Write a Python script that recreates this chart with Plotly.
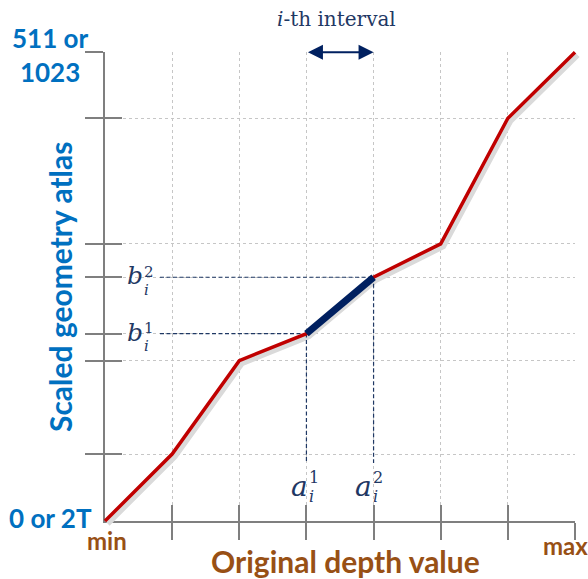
import plotly.graph_objects as go

# ---------------- data ----------------
x_steps = [0, 1, 2, 3, 4, 5, 6, 7]                    # original depth value (min .. max)
y_scaled = [0, 146, 350, 409, 532, 605, 879, 1023]    # scaled geometry atlas value
interval_idx = [3, 4]                                  # i-th interval (a_i^1, a_i^2)
x_ticks = [1, 2, 3, 4, 5, 6, 7]
y_ticks = [146, 350, 409, 532, 605, 879, 1023]

RED = "#C00000"
NAVY = "#002060"
DASH_NAVY = "#1F3864"
BLUE = "#0070C0"
BROWN = "#985015"
GRID = "#C6C6C6"
AXIS = "#7F7F7F"

W, H = 588, 579
X0, X1 = 105, 575      # pixel of x=min, x=max
Y0, Y1 = 521, 52.3     # pixel of y=0, y=top
XMAX, YMAX = x_steps[-1], y_scaled[-1]
PAD = 8
padx = PAD * XMAX / (X1 - X0)
pady = PAD * YMAX / (Y0 - Y1)


def fx(p):
    return p / W


def fy(p):
    return 1 - p / H


fig = go.Figure()

a1x, a2x = interval_idx
b1y, b2y = y_scaled[a1x], y_scaled[a2x]
guide_x0 = (160 - X0) * XMAX / (X1 - X0)
guide_y0 = (Y0 - 463) * YMAX / (Y0 - Y1)

# invisible traces so that the grid axes and the crossing-tick axes are drawn
for xa, ya in [("x", "y"), ("x4", "y"), ("x", "y4")]:
    fig.add_trace(go.Scatter(x=x_steps, y=y_scaled, mode="lines", line=dict(width=0),
                             opacity=0, xaxis=xa, yaxis=ya, hoverinfo="skip", showlegend=False))

# shadow of the curve
fig.add_trace(go.Scatter(x=x_steps, y=y_scaled, mode="lines",
                         line=dict(color="#DADADA", width=6),
                         xaxis="x2", yaxis="y2", hoverinfo="skip", showlegend=False))
# dashed guides
for yy, xx in [(b1y, a1x), (b2y, a2x)]:
    fig.add_trace(go.Scatter(x=[guide_x0, xx], y=[yy, yy], mode="lines",
                             line=dict(color=DASH_NAVY, width=1.2, dash="4px,2.5px"),
                             xaxis="x3", yaxis="y3", showlegend=False))
    fig.add_trace(go.Scatter(x=[xx, xx], y=[yy, guide_y0], mode="lines",
                             line=dict(color=DASH_NAVY, width=1.2, dash="4px,2.5px"),
                             xaxis="x3", yaxis="y3", showlegend=False))
# mapping curve
fig.add_trace(go.Scatter(x=x_steps, y=y_scaled, mode="lines",
                         line=dict(color=RED, width=3.5),
                         xaxis="x3", yaxis="y3", showlegend=False))
# highlighted interval
fig.add_trace(go.Scatter(x=x_steps[a1x:a2x + 1], y=y_scaled[a1x:a2x + 1], mode="lines",
                         line=dict(color=NAVY, width=7),
                         xaxis="x3", yaxis="y3", showlegend=False))

xdom = [fx(X0), fx(X1)]
ydom = [fy(Y0), fy(Y1)]
xdom_p = [fx(X0 - PAD), fx(X1 + PAD)]
ydom_p = [fy(Y0 + PAD), fy(Y1 - PAD)]
SX, SY = 2.5, 2.5
xdom_s = [fx(X0 - PAD + SX), fx(X1 + PAD + SX)]
ydom_s = [fy(Y0 + PAD + SY), fy(Y1 - PAD + SY)]

fig.update_layout(
    width=W, height=H, autosize=False,
    margin=dict(l=0, r=0, t=0, b=0),
    paper_bgcolor="white", plot_bgcolor="rgba(0,0,0,0)",
    showlegend=False,
    xaxis=dict(domain=xdom, range=[0, XMAX], anchor="y",
               tickvals=x_ticks, ticks="outside", ticklen=17, tickwidth=2, tickcolor=AXIS,
               showticklabels=False, showgrid=True, gridcolor=GRID, gridwidth=1.3, griddash="dot",
               showline=True, linecolor=AXIS, linewidth=2, zeroline=False),
    yaxis=dict(domain=ydom, range=[0, YMAX], anchor="x",
               tickvals=y_ticks, ticks="outside", ticklen=18, tickwidth=2, tickcolor=AXIS,
               showticklabels=False, showgrid=True, gridcolor=GRID, gridwidth=1.3, griddash="dot",
               showline=True, linecolor=AXIS, linewidth=2, zeroline=False),
    xaxis4=dict(overlaying="x", anchor="y", range=[0, XMAX], tickvals=x_ticks,
                ticks="inside", ticklen=16, tickwidth=2, tickcolor=AXIS,
                showticklabels=False, showgrid=False, showline=False, zeroline=False),
    yaxis4=dict(overlaying="y", anchor="x", range=[0, YMAX], tickvals=y_ticks,
                ticks="inside", ticklen=17, tickwidth=2, tickcolor=AXIS,
                showticklabels=False, showgrid=False, showline=False, zeroline=False),
    xaxis2=dict(domain=xdom_s, range=[-padx, XMAX + padx], anchor="y2", visible=False),
    yaxis2=dict(domain=ydom_s, range=[-pady, YMAX + pady], anchor="x2", visible=False),
    xaxis3=dict(domain=xdom_p, range=[-padx, XMAX + padx], anchor="y3", visible=False),
    yaxis3=dict(domain=ydom_p, range=[-pady, YMAX + pady], anchor="x3", visible=False),
)

# double-headed arrow marking the i-th interval
fig.add_annotation(x=a2x, y=YMAX, ax=a1x, ay=YMAX, xref="x3", yref="y3", axref="x3", ayref="y3",
                   text="", showarrow=True, arrowhead=2, arrowside="end+start",
                   arrowsize=1.5, arrowwidth=2, arrowcolor=NAVY, standoff=0, startstandoff=0)

LATO = "Lato"
SERIF = "DejaVu Serif"


def ann(text, px, py, size, color, family, **kw):
    fig.add_annotation(x=fx(px), y=fy(py), xref="paper", yref="paper", text=text,
                       showarrow=False, font=dict(family=family, size=size, color=color),
                       xanchor="center", yanchor="middle", **kw)


ann("<i>i</i>-th interval", 336, 19, 20, DASH_NAVY, SERIF)
ann("<b>511 or</b><br><b>1023</b>", 50, 55, 26, BLUE, LATO)
ann("<b>0 or 2T</b>", 50, 518, 26, BLUE, LATO)
ann("<b>Scaled geometry atlas</b>", 60, 287, 30, BLUE, LATO, textangle=-90)
ann("<b>Original depth value</b>", 345, 561, 30, BROWN, LATO)
ann("<b>min</b>", 107, 540, 24, BROWN, LATO)
ann("<b>max</b>", 565, 545, 24, BROWN, LATO)

# b_i^1, b_i^2 labels
for base_y, sup in [(341, "1"), (285, "2")]:
    ann("<i>b</i>", 135, base_y - 9, 25, DASH_NAVY, SERIF)
    ann(sup, 149, base_y - 13, 15, DASH_NAVY, SERIF)
    ann("<i>i</i>", 146, base_y + 5, 15, DASH_NAVY, SERIF)

# a_i^1, a_i^2 labels
for cx, sup in [(299, "1"), (363, "2")]:
    ann("<i>a</i>", cx, 486, 28, DASH_NAVY, SERIF)
    ann(sup, cx + 15, 477, 16, DASH_NAVY, SERIF)
    ann("<i>i</i>", cx + 12, 496, 16, DASH_NAVY, SERIF)

fig.write_html("out.html", config={"displayModeBar": False},
               post_script="document.body.style.margin='0px';document.body.style.overflow='hidden';")
